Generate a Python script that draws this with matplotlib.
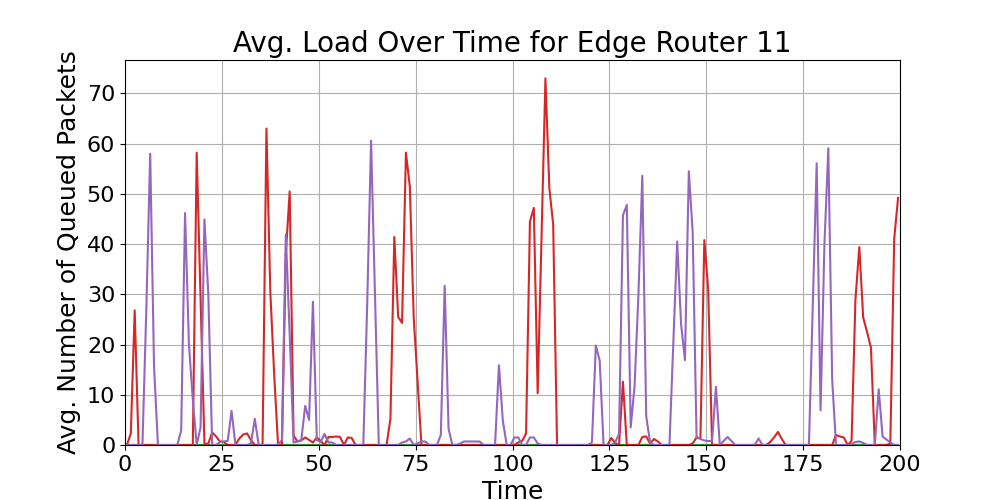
import numpy as np
import matplotlib
matplotlib.use('Agg')
import matplotlib.pyplot as plt

# one sample per time step, sampled at the middle of the step
time = np.arange(200) + 0.5

# queues that stayed empty during the whole run
queue_blue = [0.0] * 200
queue_orange = [0.0] * 200
queue_green = [0.0] * 200

queue_red = [
    0, 2.3, 26.8, 0, 0, 0, 0, 0, 0, 0,
    0, 0, 0, 0, 0, 0, 0, 0, 58.2, 29,
    0.2, 0.3, 2.5, 1.7, 0.7, 0.6, 0, 0, 0, 1.3,
    2.1, 2.3, 1.0, 0, 0, 0, 63.0, 30.5, 14, 0,
    0, 38, 50.5, 1.9, 0.7, 0.9, 1.5, 1.0, 0.5, 1.5,
    0.8, 0, 1.6, 1.6, 1.7, 1.6, 0, 1.5, 1.4, 0,
    0, 0, 0, 0, 0, 0, 0, 0, 5.2, 41.4,
    25.5, 24.3, 58.2, 51.5, 25.5, 12.7, 0, 0, 0, 0,
    0, 0, 0, 0, 0, 0, 0, 0, 0, 0,
    0, 0, 0, 0, 0, 0, 0, 0, 0, 0,
    0, 0.5, 0.8, 2.3, 44.5, 47.2, 10.3, 42, 73, 51.2,
    43.9, 0, 0, 0, 0, 0, 0, 0, 0, 0,
    0, 0, 0, 0, 0, 1.4, 0.4, 0, 12.6, 0,
    0, 0, 0, 1.6, 1.7, 0.3, 1.2, 0.7, 0, 0,
    0, 0, 0, 0, 0, 0, 0.3, 1.5, 1.3, 40.8,
    31, 0, 0, 0, 0, 0, 0, 0, 0, 0,
    0, 0, 0, 0, 0, 0, 0.6, 1.5, 2.6, 1.2,
    0, 0, 0, 0, 0, 0, 0, 0, 0, 0,
    0, 0, 0, 2.0, 1.7, 1.5, 0, 0.8, 29, 39.4,
    25.4, 22.5, 19.4, 0, 0, 0, 0, 0.3, 41, 49.2,
]

queue_purple = [
    0, 0, 0, 0, 0, 27, 58, 15.5, 0, 0,
    0, 0, 0, 0, 2.9, 46.2, 20, 9, 0, 3.5,
    44.9, 30, 0, 0, 0.6, 0.7, 0.8, 6.8, 0, 0,
    0, 0, 0.3, 5.2, 0, 0, 0, 0, 0, 0,
    1.0, 41.9, 22, 0.5, 0.7, 1.0, 7.8, 5.0, 28.5, 1.0,
    0.6, 2.2, 0.5, 0.5, 0, 0, 0, 0, 0, 0,
    0, 0, 28, 60.6, 30, 0, 0, 0, 0, 0,
    0, 0.5, 0.7, 1.3, 0, 0.3, 0.7, 0.7, 0, 0,
    0, 2.0, 31.7, 3.2, 0, 0, 0.3, 0.7, 0.7, 0.7,
    0.7, 0.7, 0, 0, 0, 0, 15.9, 4.9, 0, 0,
    1.5, 1.5, 0, 0, 1.5, 1.5, 0.3, 0, 0, 0,
    0, 0, 0, 0, 0, 0, 0, 0, 0, 0,
    0.5, 19.8, 16.8, 0, 0, 0, 0.5, 2.2, 45.7, 47.8,
    3.5, 11.7, 30, 53.6, 5.8, 0.5, 0, 0, 0, 0,
    0, 20, 40.5, 24.1, 16.9, 54.5, 42.4, 1.6, 1.2, 0.9,
    0.8, 0.8, 11.6, 0, 0.8, 1.6, 0.8, 0, 0, 0,
    0, 0, 0, 1.3, 0, 0, 0, 0, 0, 0,
    0, 0, 0, 0, 0, 0, 0, 28, 56.1, 6.9,
    40, 59.1, 13, 0, 0, 0, 0, 0.2, 0.6, 0.7,
    0.4, 0, 0, 0, 11.1, 1.7, 1.1, 0.5, 0, 0,
]

queues = [queue_blue, queue_orange, queue_green, queue_red, queue_purple]

fig, ax = plt.subplots(figsize=(10, 5), dpi=100)
for q in queues:
    ax.plot(time, q)

ax.set_title('Avg. Load Over Time for Edge Router 11', fontsize=20)
ax.set_xlabel('Time', fontsize=18)
ax.set_ylabel('Avg. Number of Queued Packets', fontsize=18)
ax.tick_params(labelsize=16)
ax.set_xlim(0, 200)
ax.set_ylim(bottom=0)
ax.grid(True)

fig.savefig('out.png')
